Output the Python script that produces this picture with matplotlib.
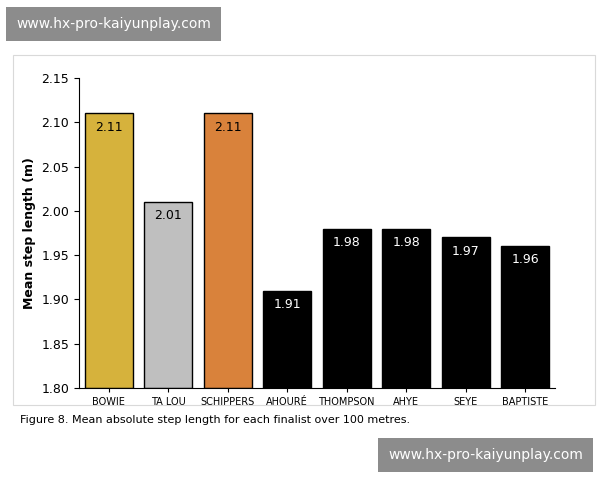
import matplotlib
matplotlib.use("Agg")
import matplotlib.pyplot as plt
from matplotlib.patches import Rectangle

names = ["BOWIE", "TA LOU", "SCHIPPERS", "AHOURÉ", "THOMPSON", "AHYE", "SEYE", "BAPTISTE"]
values = [2.11, 2.01, 2.11, 1.91, 1.98, 1.98, 1.97, 1.96]
colors = ["#d6b23c", "#bfbfbf", "#d9823b", "#000000", "#000000", "#000000", "#000000", "#000000"]
label_colors = ["#000000", "#000000", "#000000", "#ffffff", "#ffffff", "#ffffff", "#ffffff", "#ffffff"]
yticks = [1.80, 1.85, 1.90, 1.95, 2.00, 2.05, 2.10, 2.15]

fig = plt.figure(figsize=(6, 4.8), dpi=100)
fig.patches.append(Rectangle((13/600, 1-405/480), 582/600, 350/480, transform=fig.transFigure,
                             fill=False, edgecolor="#d9d9d9", lw=0.8))
ax = fig.add_axes([79/600, 1-388/480, 476/600, 310/480])
x = range(len(names))
ax.bar(x, [v - 1.80 for v in values], bottom=1.80, width=0.8, color=colors, edgecolor="black", lw=1)
for i, v in enumerate(values):
    ax.text(i, v - 0.008, f"{v:.2f}", ha="center", va="top", fontsize=9, color=label_colors[i])
ax.set_ylim(1.80, 2.15)
ax.set_xlim(-0.5, len(names) - 0.5)
ax.set_yticks(yticks)
ax.set_yticklabels([f"{t:.2f}" for t in yticks], fontsize=9)
ax.set_xticks(list(x))
ax.set_xticklabels(names, fontsize=7)
ax.set_ylabel("Mean step length (m)", fontsize=9, fontweight="bold")
for s in ["top", "right"]:
    ax.spines[s].set_visible(False)
ax.tick_params(axis="x", length=3)
fig.text(20/600, 1-420/480, "Figure 8. Mean absolute step length for each finalist over 100 metres.",
         fontsize=8, va="center")
fig.text(16/600, 1-24/480, "www.hx-pro-kaiyunplay.com", fontsize=10, color="white", va="center",
         bbox=dict(facecolor="#8c8c8c", edgecolor="none", pad=7))
fig.text(583/600, 1-455/480, "www.hx-pro-kaiyunplay.com", fontsize=10, color="white", va="center",
         ha="right", bbox=dict(facecolor="#8c8c8c", edgecolor="none", pad=7))
fig.savefig("out.png", dpi=100)
